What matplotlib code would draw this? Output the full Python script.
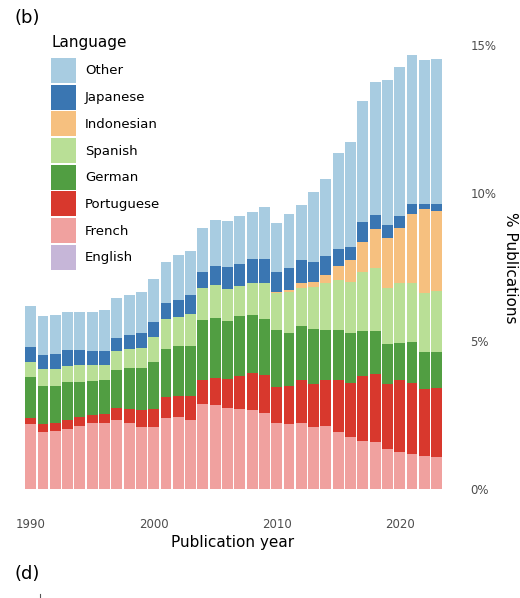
import numpy as np
import matplotlib.pyplot as plt
from matplotlib.patches import Patch
from matplotlib.lines import Line2D

years = np.arange(1990, 2024)

# share of publications (%) per language
english = [0.0] * 34
french = [2.19, 1.94, 1.97, 2.04, 2.13, 2.22, 2.24, 2.33, 2.24, 2.10,
          2.10, 2.39, 2.42, 2.33, 2.87, 2.84, 2.75, 2.70, 2.67, 2.58,
          2.22, 2.19, 2.24, 2.10, 2.13, 1.94, 1.77, 1.63, 1.60, 1.35,
          1.26, 1.18, 1.11, 1.07]
portuguese = [0.22, 0.26, 0.27, 0.29, 0.29, 0.28, 0.29, 0.42, 0.45, 0.57,
              0.60, 0.71, 0.72, 0.80, 0.81, 0.90, 0.98, 1.12, 1.25, 1.27,
              1.24, 1.29, 1.44, 1.45, 1.55, 1.74, 1.82, 2.19, 2.27, 2.20,
              2.42, 2.39, 2.28, 2.34]
german = [1.38, 1.29, 1.25, 1.30, 1.21, 1.16, 1.15, 1.27, 1.39, 1.43,
          1.60, 1.63, 1.69, 1.71, 2.03, 2.03, 1.96, 2.02, 1.96, 1.90,
          1.91, 1.80, 1.83, 1.84, 1.69, 1.69, 1.67, 1.53, 1.48, 1.34,
          1.26, 1.40, 1.25, 1.23]
spanish = [0.51, 0.56, 0.56, 0.54, 0.56, 0.54, 0.51, 0.64, 0.65, 0.67,
           0.85, 1.00, 0.97, 1.07, 1.07, 1.11, 1.06, 1.02, 1.07, 1.20,
           1.24, 1.36, 1.27, 1.42, 1.60, 1.69, 1.74, 1.97, 2.10, 1.91,
           2.03, 2.00, 1.99, 2.06]
indonesian = [0.0] * 20 + [0.03, 0.08, 0.19, 0.19, 0.26, 0.47, 0.74, 1.01,
                           1.33, 1.67, 1.86, 2.32, 2.82, 2.69]
japanese = [0.49, 0.48, 0.51, 0.53, 0.51, 0.47, 0.48, 0.45, 0.47, 0.49,
            0.50, 0.54, 0.59, 0.63, 0.56, 0.64, 0.75, 0.75, 0.81, 0.83,
            0.69, 0.73, 0.77, 0.68, 0.65, 0.58, 0.44, 0.70, 0.48, 0.44,
            0.40, 0.33, 0.19, 0.23]
other = [1.39, 1.33, 1.32, 1.28, 1.29, 1.31, 1.38, 1.34, 1.34, 1.40,
         1.44, 1.41, 1.52, 1.49, 1.49, 1.56, 1.55, 1.61, 1.59, 1.75,
         1.64, 1.85, 1.86, 2.35, 2.60, 3.25, 3.53, 4.08, 4.50, 4.91,
         5.04, 5.04, 4.85, 4.91]

languages = ['English', 'French', 'Portuguese', 'German', 'Spanish',
             'Indonesian', 'Japanese', 'Other']
series = [english, french, portuguese, german, spanish, indonesian, japanese, other]
colors = ['#c6b6d8', '#f0a19f', '#d8382d', '#519e42', '#b9df96',
          '#f6c07f', '#3a76b2', '#a8cce1']

W, H = 520, 598
fig = plt.figure(figsize=(W / 100, H / 100), dpi=100)
ax = fig.add_axes([23.3 / W, (H - 489) / H, (444 - 23.3) / W, (489 - 30.2) / H])

bottom = np.zeros(len(years))
for vals, col in zip(series, colors):
    ax.bar(years, vals, bottom=bottom, width=0.88, color=col, linewidth=0)
    bottom += np.array(vals)

ax.set_xlim(1989.4, 2023.6)
ax.set_ylim(0, 15.5)
for s in ax.spines.values():
    s.set_visible(False)

ax.yaxis.tick_right()
ax.set_yticks([0, 5, 10, 15])
ax.set_yticklabels(['0%', '5%', '10%', '15%'])
ax.set_xticks([1990, 2000, 2010, 2020])
ax.tick_params(axis='both', length=0, labelsize=8.5, labelcolor='#4d4d4d')
ax.tick_params(axis='y', pad=19)
ax.tick_params(axis='x', pad=21)
for lbl in ax.get_yticklabels():
    lbl.set_horizontalalignment('left')

fig.text(233 / W, 1 - 542 / H, 'Publication year', ha='center', va='center', fontsize=11)
fig.text(510 / W, 1 - 268 / H, '% Publications', ha='center', va='center',
         fontsize=11, rotation=-90)
fig.text(15 / W, 1 - 18 / H, '(b)', ha='left', va='center', fontsize=13)
fig.text(15 / W, 1 - 574 / H, '(d)', ha='left', va='center', fontsize=13)

# small tick from the panel below
fig.add_artist(Line2D([40 / W, 40 / W], [0, 4 / H], color='#555555', lw=0.8))

handles = [Patch(facecolor=c, edgecolor='none') for c in colors][::-1]
leg = fig.legend(handles, languages[::-1], loc='upper left',
                 bbox_to_anchor=(46 / W, 1 - 30 / H), frameon=False,
                 fontsize=9.5, title='Language', title_fontsize=11,
                 handlelength=1.9, handleheight=2.55, labelspacing=0.12,
                 handletextpad=0.65, borderaxespad=0)
leg._legend_box.align = 'left'
leg._legend_box.sep = 5.5  # a bit more room under the title

fig.savefig('out.png', dpi=100)
